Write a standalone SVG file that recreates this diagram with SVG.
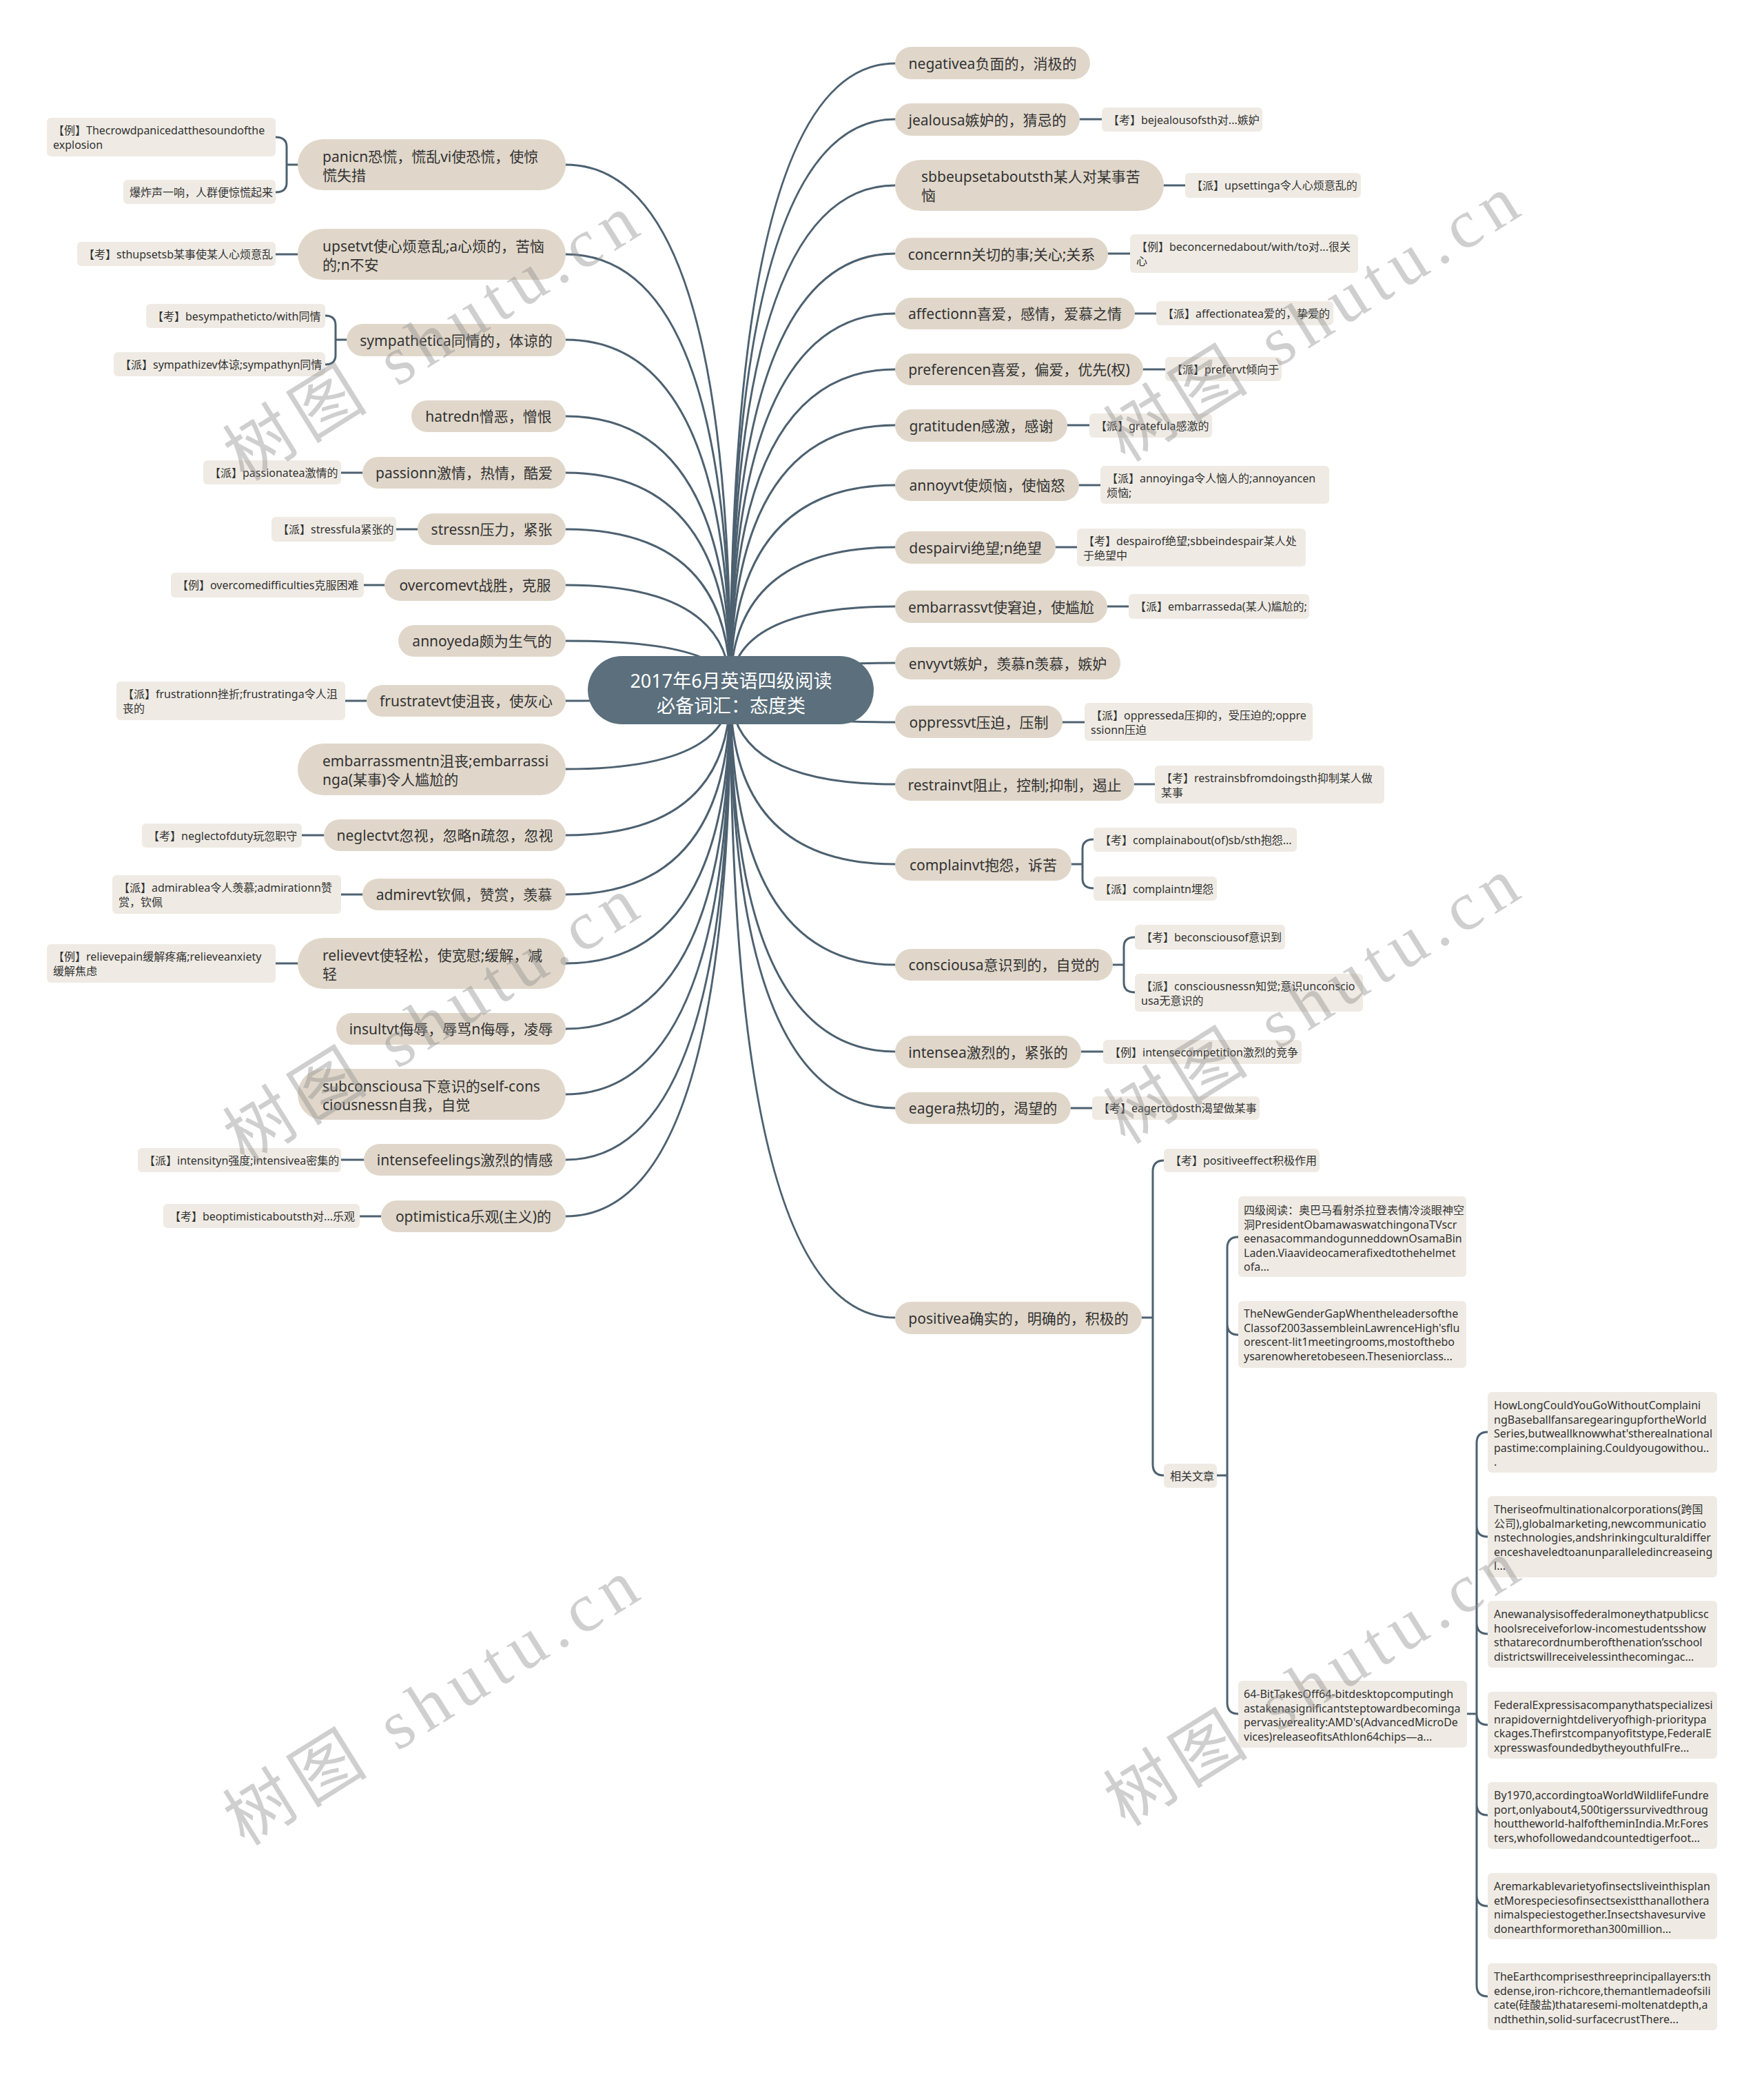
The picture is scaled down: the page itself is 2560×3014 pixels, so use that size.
<svg xmlns="http://www.w3.org/2000/svg" width="2560" height="3014" viewBox="0 0 2560 3014">
<style>
text{font-family:"Noto Sans","Noto Sans CJK SC",sans-serif;fill:#333333}
.l1{fill:#e0d7ca}
.lf{fill:#efebe4}
.t1{font-size:21px;dominant-baseline:central}
.tm{text-anchor:middle}
.t2{font-size:16px;dominant-baseline:central}
.ta{font-size:16px;dominant-baseline:central}
.conn path{fill:none;stroke:#4d6170;stroke-width:3;stroke-linecap:round}
.wm{font-family:"Liberation Serif","Noto Sans CJK SC",serif;font-size:100px;fill:#8a8a8a;opacity:0.4;letter-spacing:12px}
</style>
<rect width="2560" height="3014" fill="#ffffff"/>
<g class="conn" id="connectors">
<path d="M1060 1001Q1060 239 821 239"/>
<path d="M1060 1001Q1060 369 821 369"/>
<path d="M1060 1001Q1060 493 821 493"/>
<path d="M1060 1001Q1060 604 821 604"/>
<path d="M1060 1001Q1060 686 821 686"/>
<path d="M1060 1001Q1060 768 821 768"/>
<path d="M1060 1001Q1060 849 821 849"/>
<path d="M1060 1001Q1060 930 821 930"/>
<path d="M1060 1001Q1060 1017 821 1017"/>
<path d="M1060 1001Q1060 1116 821 1116"/>
<path d="M1060 1001Q1060 1212 821 1212"/>
<path d="M1060 1001Q1060 1298 821 1298"/>
<path d="M1060 1001Q1060 1398 821 1398"/>
<path d="M1060 1001Q1060 1493 821 1493"/>
<path d="M1060 1001Q1060 1588 821 1588"/>
<path d="M1060 1001Q1060 1683 821 1683"/>
<path d="M1060 1001Q1060 1765 821 1765"/>
<path d="M1060 1001Q1060 92 1299 92"/>
<path d="M1060 1001Q1060 173 1299 173"/>
<path d="M1060 1001Q1060 269 1299 269"/>
<path d="M1060 1001Q1060 368 1299 368"/>
<path d="M1060 1001Q1060 455 1299 455"/>
<path d="M1060 1001Q1060 536 1299 536"/>
<path d="M1060 1001Q1060 617 1299 617"/>
<path d="M1060 1001Q1060 704 1299 704"/>
<path d="M1060 1001Q1060 794 1299 794"/>
<path d="M1060 1001Q1060 880 1299 880"/>
<path d="M1060 1001Q1060 962 1299 962"/>
<path d="M1060 1001Q1060 1048 1299 1048"/>
<path d="M1060 1001Q1060 1138 1299 1138"/>
<path d="M1060 1001Q1060 1254 1299 1254"/>
<path d="M1060 1001Q1060 1400 1299 1400"/>
<path d="M1060 1001Q1060 1526 1299 1526"/>
<path d="M1060 1001Q1060 1608 1299 1608"/>
<path d="M1060 1001Q1060 1912 1299 1912"/>
<path d="M432 239H416M400 199Q416 199 416 213V265Q416 279 400 279"/>
<path d="M432 369H400"/>
<path d="M503 493H487M472 458Q487 458 487 472V515Q487 529 472 529"/>
<path d="M526 686H495"/>
<path d="M606 768H575"/>
<path d="M558 849H528"/>
<path d="M532 1017H501"/>
<path d="M470 1212H438"/>
<path d="M526 1298H495"/>
<path d="M432 1398H400"/>
<path d="M528 1683H495"/>
<path d="M553 1765H522"/>
<path d="M1567 173H1599"/>
<path d="M1689 269H1720"/>
<path d="M1608 368H1640"/>
<path d="M1647 455H1678"/>
<path d="M1659 536H1691"/>
<path d="M1549 617H1581"/>
<path d="M1566 704H1597"/>
<path d="M1532 794H1563"/>
<path d="M1607 880H1638"/>
<path d="M1542 1048H1574"/>
<path d="M1646 1138H1676"/>
<path d="M1555 1254H1571M1587 1218Q1571 1218 1571 1232V1275Q1571 1289 1587 1289"/>
<path d="M1615 1400H1631M1647 1360Q1631 1360 1631 1374V1426Q1631 1440 1647 1440"/>
<path d="M1569 1526H1601"/>
<path d="M1554 1608H1585"/>
<path d="M1657 1912H1673M1689 1684Q1673 1684 1673 1700V2125Q1673 2141 1689 2141"/>
<path d="M1766 2141H1781M1797 1795Q1781 1795 1781 1811V2471Q1781 2487 1797 2487M1781 1921Q1781 1937 1797 1937"/>
<path d="M2129 2487H2143M2159 2078Q2143 2078 2143 2094V2881Q2143 2897 2159 2897M2143 2214Q2143 2230 2159 2230M2143 2355Q2143 2371 2159 2371M2143 2487Q2143 2503 2159 2503M2143 2618Q2143 2634 2159 2634M2143 2750Q2143 2766 2159 2766"/>
</g>
<g id="center">
<rect x="853" y="952" width="415" height="99" rx="49.5" fill="#5b6f7c"/>
<text x="1061" y="987" text-anchor="middle" dominant-baseline="central" font-size="27" style="fill:#ffffff">2017年6月英语四级阅读</text>
<text x="1061" y="1023" text-anchor="middle" dominant-baseline="central" font-size="27" style="fill:#ffffff">必备词汇：态度类</text>
</g>
<g id="n-panic"><rect class="l1" x="432" y="202" width="389" height="74" rx="37"/><text class="t1" x="468" y="227">panicn恐慌，慌乱vi使恐慌，使惊</text><text class="t1" x="468" y="254">慌失措</text></g>
<g id="n-panic-1"><rect class="lf" x="68" y="171" width="332" height="56" rx="6"/><text class="t2" x="77" y="189">【例】Thecrowdpanicedatthesoundofthe</text><text class="t2" x="77" y="210">explosion</text></g>
<g id="n-panic-2"><rect class="lf" x="179" y="261" width="221" height="35" rx="6"/><text class="t2" x="188" y="278.5">爆炸声一响，人群便惊慌起来</text></g>
<g id="n-upset"><rect class="l1" x="432" y="332" width="389" height="74" rx="37"/><text class="t1" x="468" y="357">upsetvt使心烦意乱;a心烦的，苦恼</text><text class="t1" x="468" y="384">的;n不安</text></g>
<g id="n-upset-1"><rect class="lf" x="112" y="351" width="288" height="35" rx="6"/><text class="t2" x="121" y="368.5">【考】sthupsetsb某事使某人心烦意乱</text></g>
<g id="n-sympathetic"><rect class="l1" x="503" y="470" width="318" height="47" rx="23.5"/><text class="t1 tm" x="662" y="493.5">sympathetica同情的，体谅的</text></g>
<g id="n-sympathetic-1"><rect class="lf" x="212" y="441" width="260" height="35" rx="6"/><text class="t2" x="221" y="458.5">【考】besympatheticto/with同情</text></g>
<g id="n-sympathetic-2"><rect class="lf" x="165" y="511" width="307" height="35" rx="6"/><text class="t2" x="174" y="528.5">【派】sympathizev体谅;sympathyn同情</text></g>
<g id="n-hatred"><rect class="l1" x="597" y="581" width="224" height="46" rx="23"/><text class="t1 tm" x="709" y="604">hatredn憎恶，憎恨</text></g>
<g id="n-passion"><rect class="l1" x="526" y="663" width="295" height="46" rx="23"/><text class="t1 tm" x="673.5" y="686">passionn激情，热情，酷爱</text></g>
<g id="n-passion-1"><rect class="lf" x="295" y="668" width="200" height="35" rx="6"/><text class="t2" x="304" y="685.5">【派】passionatea激情的</text></g>
<g id="n-stress"><rect class="l1" x="606" y="745" width="215" height="46" rx="23"/><text class="t1 tm" x="713.5" y="768">stressn压力，紧张</text></g>
<g id="n-stress-1"><rect class="lf" x="394" y="750" width="181" height="36" rx="6"/><text class="t2" x="403" y="768">【派】stressfula紧张的</text></g>
<g id="n-overcome"><rect class="l1" x="558" y="826" width="263" height="46" rx="23"/><text class="t1 tm" x="689.5" y="849">overcomevt战胜，克服</text></g>
<g id="n-overcome-1"><rect class="lf" x="248" y="831" width="280" height="36" rx="6"/><text class="t2" x="257" y="849">【例】overcomedifficulties克服困难</text></g>
<g id="n-annoyed"><rect class="l1" x="578" y="907" width="243" height="46" rx="23"/><text class="t1 tm" x="699.5" y="930">annoyeda颇为生气的</text></g>
<g id="n-frustrate"><rect class="l1" x="532" y="994" width="289" height="46" rx="23"/><text class="t1 tm" x="676.5" y="1017">frustratevt使沮丧，使灰心</text></g>
<g id="n-frustrate-1"><rect class="lf" x="169" y="989" width="332" height="56" rx="6"/><text class="t2" x="178" y="1007">【派】frustrationn挫折;frustratinga令人沮</text><text class="t2" x="178" y="1028">丧的</text></g>
<g id="n-embarrassment"><rect class="l1" x="432" y="1079" width="389" height="75" rx="37.5"/><text class="t1" x="468" y="1104">embarrassmentn沮丧;embarrassi</text><text class="t1" x="468" y="1131">nga(某事)令人尴尬的</text></g>
<g id="n-neglect"><rect class="l1" x="470" y="1189" width="351" height="46" rx="23"/><text class="t1 tm" x="645.5" y="1212">neglectvt忽视，忽略n疏忽，忽视</text></g>
<g id="n-neglect-1"><rect class="lf" x="206" y="1195" width="232" height="35" rx="6"/><text class="t2" x="215" y="1212.5">【考】neglectofduty玩忽职守</text></g>
<g id="n-admire"><rect class="l1" x="526" y="1275" width="295" height="46" rx="23"/><text class="t1 tm" x="673.5" y="1298">admirevt钦佩，赞赏，羡慕</text></g>
<g id="n-admire-1"><rect class="lf" x="163" y="1270" width="332" height="56" rx="6"/><text class="t2" x="172" y="1288">【派】admirablea令人羡慕;admirationn赞</text><text class="t2" x="172" y="1309">赏，钦佩</text></g>
<g id="n-relieve"><rect class="l1" x="432" y="1361" width="389" height="74" rx="37"/><text class="t1" x="468" y="1386">relievevt使轻松，使宽慰;缓解，减</text><text class="t1" x="468" y="1413">轻</text></g>
<g id="n-relieve-1"><rect class="lf" x="68" y="1370" width="332" height="56" rx="6"/><text class="t2" x="77" y="1388">【例】relievepain缓解疼痛;relieveanxiety</text><text class="t2" x="77" y="1409">缓解焦虑</text></g>
<g id="n-insult"><rect class="l1" x="488" y="1470" width="333" height="46" rx="23"/><text class="t1 tm" x="654.5" y="1493">insultvt侮辱，辱骂n侮辱，凌辱</text></g>
<g id="n-subconscious"><rect class="l1" x="432" y="1551" width="389" height="74" rx="37"/><text class="t1" x="468" y="1576">subconsciousa下意识的self-cons</text><text class="t1" x="468" y="1603">ciousnessn自我，自觉</text></g>
<g id="n-intensefeelings"><rect class="l1" x="528" y="1660" width="293" height="46" rx="23"/><text class="t1 tm" x="674.5" y="1683">intensefeelings激烈的情感</text></g>
<g id="n-intensefeelings-1"><rect class="lf" x="200" y="1666" width="295" height="35" rx="6"/><text class="t2" x="209" y="1683.5">【派】intensityn强度;intensivea密集的</text></g>
<g id="n-optimistic"><rect class="l1" x="553" y="1742" width="268" height="46" rx="23"/><text class="t1 tm" x="687" y="1765">optimistica乐观(主义)的</text></g>
<g id="n-optimistic-1"><rect class="lf" x="237" y="1747" width="285" height="35" rx="6"/><text class="t2" x="246" y="1764.5">【考】beoptimisticaboutsth对...乐观</text></g>
<g id="n-negative"><rect class="l1" x="1299" y="68" width="283" height="47" rx="23.5"/><text class="t1 tm" x="1440.5" y="91.5">negativea负面的，消极的</text></g>
<g id="n-jealous"><rect class="l1" x="1299" y="150" width="268" height="47" rx="23.5"/><text class="t1 tm" x="1433" y="173.5">jealousa嫉妒的，猜忌的</text></g>
<g id="n-jealous-1"><rect class="lf" x="1599" y="156" width="233" height="35" rx="6"/><text class="t2" x="1608" y="173.5">【考】bejealousofsth对...嫉妒</text></g>
<g id="n-sbbeupset"><rect class="l1" x="1299" y="232" width="390" height="74" rx="37"/><text class="t1" x="1337" y="256">sbbeupsetaboutsth某人对某事苦</text><text class="t1" x="1337" y="283">恼</text></g>
<g id="n-sbbeupset-1"><rect class="lf" x="1720" y="251" width="255" height="36" rx="6"/><text class="t2" x="1729" y="269">【派】upsettinga令人心烦意乱的</text></g>
<g id="n-concern"><rect class="l1" x="1299" y="345" width="309" height="47" rx="23.5"/><text class="t1 tm" x="1453.5" y="368.5">concernn关切的事;关心;关系</text></g>
<g id="n-concern-1"><rect class="lf" x="1640" y="340" width="331" height="56" rx="6"/><text class="t2" x="1649" y="358">【例】beconcernedabout/with/to对...很关</text><text class="t2" x="1649" y="379">心</text></g>
<g id="n-affection"><rect class="l1" x="1299" y="432" width="348" height="46" rx="23"/><text class="t1 tm" x="1473" y="455">affectionn喜爱，感情，爱慕之情</text></g>
<g id="n-affection-1"><rect class="lf" x="1678" y="437" width="257" height="35" rx="6"/><text class="t2" x="1687" y="454.5">【派】affectionatea爱的，挚爱的</text></g>
<g id="n-preference"><rect class="l1" x="1299" y="513" width="360" height="46" rx="23"/><text class="t1 tm" x="1479" y="536">preferencen喜爱，偏爱，优先(权)</text></g>
<g id="n-preference-1"><rect class="lf" x="1691" y="518" width="169" height="35" rx="6"/><text class="t2" x="1700" y="535.5">【派】prefervt倾向于</text></g>
<g id="n-gratitude"><rect class="l1" x="1299" y="594" width="250" height="47" rx="23.5"/><text class="t1 tm" x="1424" y="617.5">gratituden感激，感谢</text></g>
<g id="n-gratitude-1"><rect class="lf" x="1581" y="600" width="178" height="35" rx="6"/><text class="t2" x="1590" y="617.5">【派】gratefula感激的</text></g>
<g id="n-annoy"><rect class="l1" x="1299" y="681" width="267" height="46" rx="23"/><text class="t1 tm" x="1432.5" y="704">annoyvt使烦恼，使恼怒</text></g>
<g id="n-annoy-1"><rect class="lf" x="1597" y="676" width="332" height="55" rx="6"/><text class="t2" x="1606" y="694">【派】annoyinga令人恼人的;annoyancen</text><text class="t2" x="1606" y="715">烦恼;</text></g>
<g id="n-despair"><rect class="l1" x="1299" y="771" width="233" height="47" rx="23.5"/><text class="t1 tm" x="1415.5" y="794.5">despairvi绝望;n绝望</text></g>
<g id="n-despair-1"><rect class="lf" x="1563" y="767" width="332" height="55" rx="6"/><text class="t2" x="1572" y="785">【考】despairof绝望;sbbeindespair某人处</text><text class="t2" x="1572" y="806">于绝望中</text></g>
<g id="n-embarrass"><rect class="l1" x="1299" y="857" width="308" height="47" rx="23.5"/><text class="t1 tm" x="1453" y="880.5">embarrassvt使窘迫，使尴尬</text></g>
<g id="n-embarrass-1"><rect class="lf" x="1638" y="862" width="262" height="36" rx="6"/><text class="t2" x="1647" y="880">【派】embarrasseda(某人)尴尬的;</text></g>
<g id="n-envy"><rect class="l1" x="1299" y="939" width="327" height="47" rx="23.5"/><text class="t1 tm" x="1462.5" y="962.5">envyvt嫉妒，羡慕n羡慕，嫉妒</text></g>
<g id="n-oppress"><rect class="l1" x="1299" y="1024" width="243" height="47" rx="23.5"/><text class="t1 tm" x="1420.5" y="1047.5">oppressvt压迫，压制</text></g>
<g id="n-oppress-1"><rect class="lf" x="1574" y="1020" width="331" height="55" rx="6"/><text class="t2" x="1583" y="1038">【派】oppresseda压抑的，受压迫的;oppre</text><text class="t2" x="1583" y="1059">ssionn压迫</text></g>
<g id="n-restrain"><rect class="l1" x="1299" y="1115" width="347" height="47" rx="23.5"/><text class="t1 tm" x="1472.5" y="1138.5">restrainvt阻止，控制;抑制，遏止</text></g>
<g id="n-restrain-1"><rect class="lf" x="1676" y="1111" width="333" height="55" rx="6"/><text class="t2" x="1685" y="1129">【考】restrainsbfromdoingsth抑制某人做</text><text class="t2" x="1685" y="1150">某事</text></g>
<g id="n-complain"><rect class="l1" x="1299" y="1231" width="256" height="47" rx="23.5"/><text class="t1 tm" x="1427" y="1254.5">complainvt抱怨，诉苦</text></g>
<g id="n-complain-1"><rect class="lf" x="1587" y="1201" width="295" height="35" rx="6"/><text class="t2" x="1596" y="1218.5">【考】complainabout(of)sb/sth抱怨...</text></g>
<g id="n-complain-2"><rect class="lf" x="1587" y="1272" width="179" height="35" rx="6"/><text class="t2" x="1596" y="1289.5">【派】complaintn埋怨</text></g>
<g id="n-conscious"><rect class="l1" x="1299" y="1377" width="316" height="46" rx="23"/><text class="t1 tm" x="1457" y="1400">consciousa意识到的，自觉的</text></g>
<g id="n-conscious-1"><rect class="lf" x="1647" y="1342" width="218" height="36" rx="6"/><text class="t2" x="1656" y="1360">【考】beconsciousof意识到</text></g>
<g id="n-conscious-2"><rect class="lf" x="1647" y="1413" width="331" height="55" rx="6"/><text class="t2" x="1656" y="1431">【派】consciousnessn知觉;意识unconscio</text><text class="t2" x="1656" y="1452">usa无意识的</text></g>
<g id="n-intense"><rect class="l1" x="1299" y="1503" width="270" height="47" rx="23.5"/><text class="t1 tm" x="1434" y="1526.5">intensea激烈的，紧张的</text></g>
<g id="n-intense-1"><rect class="lf" x="1601" y="1509" width="288" height="35" rx="6"/><text class="t2" x="1610" y="1526.5">【例】intensecompetition激烈的竞争</text></g>
<g id="n-eager"><rect class="l1" x="1299" y="1585" width="255" height="46" rx="23"/><text class="t1 tm" x="1426.5" y="1608">eagera热切的，渴望的</text></g>
<g id="n-eager-1"><rect class="lf" x="1585" y="1591" width="243" height="34" rx="6"/><text class="t2" x="1594" y="1608">【考】eagertodosth渴望做某事</text></g>
<g id="n-positive"><rect class="l1" x="1299" y="1889" width="358" height="47" rx="23.5"/><text class="t1 tm" x="1478" y="1912.5">positivea确实的，明确的，积极的</text></g>
<g id="n-positive-1"><rect class="lf" x="1689" y="1667" width="226" height="34" rx="6"/><text class="t2" x="1698" y="1684">【考】positiveeffect积极作用</text></g>
<g id="n-related"><rect class="lf" x="1689" y="2124" width="77" height="35" rx="6"/><text class="t2" x="1698" y="2141.5">相关文章</text></g>
<g id="n-a1"><rect class="lf" x="1797" y="1736" width="331" height="117" rx="6"/><text class="ta" x="1805" y="1756">四级阅读：奥巴马看射杀拉登表情冷淡眼神空</text><text class="ta" x="1805" y="1776.5">洞PresidentObamawaswatchingonaTVscr</text><text class="ta" x="1805" y="1797">eenasacommandogunneddownOsamaBin</text><text class="ta" x="1805" y="1817.5">Laden.Viaavideocamerafixedtothehelmet</text><text class="ta" x="1805" y="1838">ofa...</text></g>
<g id="n-a2"><rect class="lf" x="1797" y="1888" width="331" height="97" rx="6"/><text class="ta" x="1805" y="1906">TheNewGenderGapWhentheleadersofthe</text><text class="ta" x="1805" y="1926.5">Classof2003assembleinLawrenceHigh'sflu</text><text class="ta" x="1805" y="1947">orescent-lit1meetingrooms,mostofthebo</text><text class="ta" x="1805" y="1967.5">ysarenowheretobeseen.Theseniorclass...</text></g>
<g id="n-a3"><rect class="lf" x="1797" y="2439" width="332" height="97" rx="6"/><text class="ta" x="1805" y="2458">64-BitTakesOff64-bitdesktopcomputingh</text><text class="ta" x="1805" y="2478.5">astakenasignificantsteptowardbecominga</text><text class="ta" x="1805" y="2499">pervasivereality:AMD's(AdvancedMicroDe</text><text class="ta" x="1805" y="2519.5">vices)releaseofitsAthlon64chips—a...</text></g>
<g id="n-b1"><rect class="lf" x="2159" y="2020" width="333" height="117" rx="6"/><text class="ta" x="2168" y="2039">HowLongCouldYouGoWithoutComplaini</text><text class="ta" x="2168" y="2059.5">ngBaseballfansaregearingupfortheWorld</text><text class="ta" x="2168" y="2080">Series,butweallknowwhat'stherealnational</text><text class="ta" x="2168" y="2100.5">pastime:complaining.Couldyougowithou..</text><text class="ta" x="2168" y="2121">.</text></g>
<g id="n-b2"><rect class="lf" x="2159" y="2171" width="333" height="118" rx="6"/><text class="ta" x="2168" y="2190">Theriseofmultinationalcorporations(跨国</text><text class="ta" x="2168" y="2210.5">公司),globalmarketing,newcommunicatio</text><text class="ta" x="2168" y="2231">nstechnologies,andshrinkingculturaldiffer</text><text class="ta" x="2168" y="2251.5">enceshaveledtoanunparalleledincreaseing</text><text class="ta" x="2168" y="2272">l...</text></g>
<g id="n-b3"><rect class="lf" x="2159" y="2323" width="333" height="97" rx="6"/><text class="ta" x="2168" y="2342">Anewanalysisoffederalmoneythatpublicsc</text><text class="ta" x="2168" y="2362.5">hoolsreceiveforlow-incomestudentsshow</text><text class="ta" x="2168" y="2383">sthatarecordnumberofthenation’sschool</text><text class="ta" x="2168" y="2403.5">districtswillreceivelessinthecomingac...</text></g>
<g id="n-b4"><rect class="lf" x="2159" y="2455" width="333" height="97" rx="6"/><text class="ta" x="2168" y="2474">FederalExpressisacompanythatspecializesi</text><text class="ta" x="2168" y="2494.5">nrapidovernightdeliveryofhigh-prioritypa</text><text class="ta" x="2168" y="2515">ckages.Thefirstcompanyofitstype,FederalE</text><text class="ta" x="2168" y="2535.5">xpresswasfoundedbytheyouthfulFre...</text></g>
<g id="n-b5"><rect class="lf" x="2159" y="2586" width="333" height="97" rx="6"/><text class="ta" x="2168" y="2605">By1970,accordingtoaWorldWildlifeFundre</text><text class="ta" x="2168" y="2625.5">port,onlyabout4,500tigerssurvivedthroug</text><text class="ta" x="2168" y="2646">houttheworld-halfoftheminIndia.Mr.Fores</text><text class="ta" x="2168" y="2666.5">ters,whofollowedandcountedtigerfoot...</text></g>
<g id="n-b6"><rect class="lf" x="2159" y="2718" width="333" height="96" rx="6"/><text class="ta" x="2168" y="2737">Aremarkablevarietyofinsectsliveinthisplan</text><text class="ta" x="2168" y="2757.5">etMorespeciesofinsectsexistthanallothera</text><text class="ta" x="2168" y="2778">nimalspeciestogether.Insectshavesurvive</text><text class="ta" x="2168" y="2798.5">donearthformorethan300million...</text></g>
<g id="n-b7"><rect class="lf" x="2159" y="2849" width="333" height="97" rx="6"/><text class="ta" x="2168" y="2868">TheEarthcomprisesthreeprincipallayers:th</text><text class="ta" x="2168" y="2888.5">edense,iron-richcore,themantlemadeofsili</text><text class="ta" x="2168" y="2909">cate(硅酸盐)thataresemi-moltenatdepth,a</text><text class="ta" x="2168" y="2929.5">ndthethin,solid-surfacecrustThere...</text></g>
<g id="watermarks">
<text class="wm" x="355" y="700" transform="rotate(-32 355 700)">树图 shutu.cn</text>
<text class="wm" x="1633" y="672" transform="rotate(-32 1633 672)">树图 shutu.cn</text>
<text class="wm" x="355" y="1690" transform="rotate(-32 355 1690)">树图 shutu.cn</text>
<text class="wm" x="1633" y="1662" transform="rotate(-32 1633 1662)">树图 shutu.cn</text>
<text class="wm" x="355" y="2680" transform="rotate(-32 355 2680)">树图 shutu.cn</text>
<text class="wm" x="1633" y="2652" transform="rotate(-32 1633 2652)">树图 shutu.cn</text>
</g>
</svg>
